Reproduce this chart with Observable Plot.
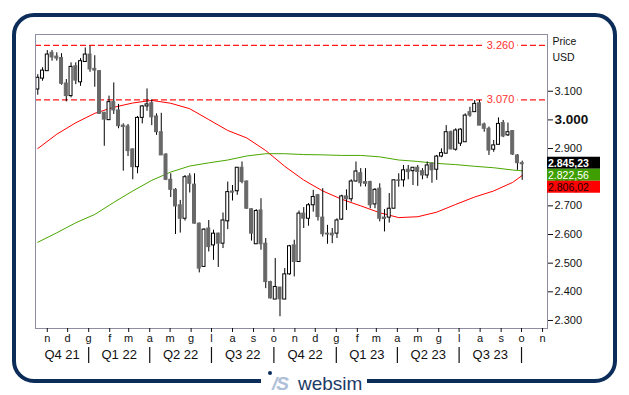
<!DOCTYPE html>
<html><head><meta charset="utf-8">
<script src="https://cdn.jsdelivr.net/npm/d3@7"></script>
<script src="https://cdn.jsdelivr.net/npm/@observablehq/plot@0.6"></script>
<style>
body{margin:0;background:#fff;font-family:"Liberation Sans",Arial,sans-serif;}
#wrap{position:relative;width:629px;height:395px;overflow:hidden;background:#fff;}
#chart{position:absolute;left:0;top:0;}
#frame{position:absolute;left:12px;top:13px;width:605px;height:370px;border:4px solid #0c2d5a;border-radius:22px;box-sizing:border-box;pointer-events:none;}
#logo{position:absolute;left:261px;top:369px;width:106px;height:26px;background:#fff;}
#logo .dot{position:absolute;left:7px;top:2px;width:4px;height:4px;border-radius:50%;background:#0c2d5a;}
#logo .mark{position:absolute;left:11px;top:5px;font:italic bold 19px/19px "Liberation Sans",Arial,sans-serif;color:#aec0d8;letter-spacing:-1px;}
#logo .name{position:absolute;left:37px;top:5px;font:19px/19px "Liberation Sans",Arial,sans-serif;color:#1c3a68;}
</style></head>
<body>
<div id="wrap">
  <div id="chart"></div>
  <div id="frame"></div>
  <div id="logo"><span class="dot"></span><span class="mark">/S</span><span class="name">websim</span></div>
</div>
<script>
// ---- data (weekly candles, values in USD) ----
const firstWeek = "2021-10-18";
const open  = [3106,3144,3170,3234,3221,3216,3127,3083,3187,3131,3202,3228,3178,3170,3025,2999,3062,3033,2980,2977,
               2897,2835,3007,3047,3058,3012,2957,2879,2791,2756,2702,2655,2803,2774,2638,2487,2621,2562,2603,2568,
               2646,2750,2751,2833,2785,2688,2566,2684,2568,2434,2373,2415,2373,2461,2562,2504,2673,2655,2702,2737,
               2659,2603,2603,2603,2652,2733,2723,2785,2814,2783,2783,2705,2760,2659,2659,2690,2789,2789,2826,2821,
               2833,2821,2806,2847,2826,2872,2882,2957,2896,2917,2922,3027,3027,3058,2984,2969,2896,2913,2989,2946,
               2961,2876,2849];
const high  = [3158,3182,3242,3242,3234,3231,3141,3199,3199,3214,3251,3257,3224,3172,3025,3083,3129,3054,2986,2984,
               2899,3012,3050,3108,3070,3021,3023,2882,2812,2760,2719,2806,2812,2812,2640,2620,2649,2615,2605,2675,
               2783,2771,2833,2853,2787,2690,2687,2725,2586,2437,2516,2415,2481,2562,2580,2682,2694,2708,2754,2740,
               2760,2632,2621,2655,2737,2756,2791,2853,2830,2830,2786,2760,2777,2687,2743,2791,2812,2841,2841,2833,
               2841,2830,2853,2849,2876,2899,2980,2961,2969,2969,3021,3044,3068,3068,2989,2975,2928,3007,2998,2989,
               2963,2879,2856];
const low   = [3086,3135,3170,3205,3205,3121,3063,3077,3123,3117,3202,3166,3114,3019,2908,2999,3019,2969,2821,2872,
               2791,2812,2986,3030,2980,2946,2876,2788,2729,2600,2605,2647,2745,2636,2466,2485,2539,2510,2485,2551,
               2617,2717,2737,2777,2688,2577,2566,2545,2411,2375,2373,2313,2373,2458,2452,2504,2621,2629,2678,2647,
               2591,2566,2568,2586,2649,2684,2713,2783,2766,2766,2690,2690,2644,2609,2640,2690,2765,2765,2791,2771,
               2768,2791,2795,2779,2789,2868,2882,2896,2891,2907,2922,3009,3027,2980,2957,2876,2887,2913,2938,2942,
               2876,2824,2789];
const close = [3147,3172,3228,3218,3214,3126,3083,3185,3137,3205,3228,3176,3172,3021,3001,3062,3033,2978,2975,2891,
               2835,3007,3047,3054,3009,2957,2876,2791,2756,2698,2655,2800,2777,2638,2481,2617,2556,2603,2568,2649,
               2748,2746,2833,2783,2690,2603,2682,2566,2434,2377,2417,2374,2461,2559,2504,2673,2655,2702,2731,2661,
               2601,2600,2597,2649,2733,2723,2785,2820,2779,2777,2702,2756,2655,2654,2690,2789,2787,2824,2818,2833,
               2818,2806,2841,2824,2872,2884,2957,2897,2963,2966,3015,3015,3056,2980,2969,2893,2911,2986,2942,2957,
               2879,2849,2845.23];
// moving averages read at these candle numbers
const maCandle = [1,5,9,13,17,21,25,29,33,37,41,45,49,53,57,61,65,69,73,77,81,85,89,93,97,101,103];
const maRed    = [2900,2950,2990,3023,3044,3059,3068,3058,3039,3001,2963,2937,2893,2838,2790,2752,2723,2700,2676,2659,2662,2678,2705,2731,2752,2782,2806.02];
const maGreen  = [2573,2606,2641,2670,2712,2752,2789,2818,2839,2850,2860,2874,2882,2882,2879,2878,2876,2876,2871,2860,2855,2848,2844,2838,2833,2825,2822.56];
const levels = [3260, 3070];
const yTicks = [2300,2400,2500,2600,2700,2800,2900,3000,3100];
const boldTick = [3000];
const monthLetters = ["g","f","m","a","m","g","l","a","s","o","n","d"];
const quarterStarts = ["2021-10-01","2022-01-01","2022-04-01","2022-07-01","2022-10-01","2023-01-01","2023-04-01","2023-07-01","2023-10-01"];
const quarterLabels = ["Q4 21","Q1 22","Q2 22","Q3 22","Q4 22","Q1 23","Q2 23","Q3 23"];
const lastLabels = [
  {v: 2845.23, bg: "#000000", fg: "#ffffff", weight: "bold"},
  {v: 2822.56, bg: "#3f9f00", fg: "#ffffff", weight: "normal"},
  {v: 2806.02, bg: "#ff0000", fg: "#1a0000", weight: "normal"}
];
const xDomain = [new Date("2021-10-14T15:00Z"), new Date("2023-11-08T07:00Z")];
const yDomain = [2272, 3298];

// ---- build tables ----
const DAY = 864e5;
const t0 = new Date(firstWeek + "T00:00Z").getTime();
const candles = open.map((o, i) => ({date: new Date(t0 + i * 7 * DAY), open: o, high: high[i], low: low[i], close: close[i]}));
const ma = maCandle.map((c, i) => ({date: candles[c - 1].date, red: maRed[i], green: maGreen[i]}));
const loc = d3.formatLocale({decimal: ",", thousands: ".", grouping: [3], currency: ["", " USD"]});
const fmt0 = loc.format(",.0f"), fmt2 = loc.format(",.2f");
const months = d3.utcMonths(new Date("2021-11-01T00:00Z"), new Date("2023-11-02T00:00Z"));
const qDates = quarterStarts.map(s => new Date(s + "T00:00Z"));
const quarters = quarterLabels.map((label, i) => {
  const a = Math.max(+qDates[i], +xDomain[0]), b = Math.min(+qDates[i + 1], +xDomain[1]);
  return {label, mid: new Date((a + b) / 2)};
});
const up = candles.filter(d => d.close >= d.open), down = candles.filter(d => d.close < d.open);
const half = 2.2 * DAY;

const chart = Plot.plot({
  width: 629, height: 395,
  marginLeft: 35, marginRight: 82, marginTop: 34, marginBottom: 67,
  style: {fontFamily: "Liberation Sans, Arial, sans-serif", color: "#111", background: "transparent"},
  x: {type: "utc", domain: xDomain},
  y: {domain: yDomain},
  marks: [
    Plot.ruleY(levels, {y: d => d, stroke: "#ff1a1a", strokeWidth: 1.3, strokeDasharray: "6,3"}),
    Plot.text(levels, {y: d => d, frameAnchor: "right", dx: -47, textAnchor: "middle", text: d => fmt0(d),
      fill: "#ff3030", stroke: "white", strokeWidth: 7, paintOrder: "stroke", fontSize: 11}),
    Plot.line(ma, {x: "date", y: "red", stroke: "#ff0000", strokeWidth: 1}),
    Plot.line(ma, {x: "date", y: "green", stroke: "#4aa600", strokeWidth: 1}),
    Plot.ruleX(candles, {x: "date", y1: "low", y2: "high", stroke: "#000", strokeWidth: 1}),
    Plot.rect(up, {x1: d => new Date(+d.date - half), x2: d => new Date(+d.date + half), y1: "open", y2: "close",
      fill: "#fff", stroke: "#000", strokeWidth: 1}),
    Plot.rect(down, {x1: d => new Date(+d.date - half), x2: d => new Date(+d.date + half), y1: "open", y2: "close",
      fill: "#686868", stroke: "#686868", strokeWidth: 1}),
    Plot.frame({stroke: "#8e8ea2"}),
    Plot.axisX({ticks: months, tickFormat: d => monthLetters[d.getUTCMonth()], tickSize: 4, tickPadding: 2,
      fontSize: 11, label: null}),
    Plot.axisY({anchor: "right", ticks: yTicks, tickFormat: d => boldTick.includes(d) ? "" : fmt0(d),
      tickSize: 5, tickPadding: 2, fontSize: 11, label: null}),
    Plot.text(boldTick, {y: d => d, frameAnchor: "right", dx: 7, textAnchor: "start", text: d => fmt0(d),
      fontWeight: "bold", fontSize: 13.5}),
    Plot.text(["Price"], {frameAnchor: "top-right", dx: 5, dy: 7.5, textAnchor: "start", lineAnchor: "middle", text: d => d, fontSize: 10.5}),
    Plot.text(["USD"], {frameAnchor: "top-right", dx: 5, dy: 23, textAnchor: "start", lineAnchor: "middle", text: d => d, fontSize: 10.5}),
    Plot.ruleX(qDates.slice(1), {x: d => d, insetTop: 313, insetBottom: -35, stroke: "#111", strokeWidth: 1.2}),
    Plot.text(quarters, {x: "mid", frameAnchor: "bottom", dy: 26, lineAnchor: "middle", text: "label", fontSize: 13, fill: "#111"})
  ]
});

// last-value tags on the right axis, stacked
const ys = chart.scale("y"), xs = chart.scale("x");
const svg = d3.select(chart);
const bx = xs.range[1], bw = 53, bh = 12;
let prev = -Infinity;
lastLabels.forEach(d => {
  const top = Math.max(ys.apply(d.v) - 7, prev);
  svg.append("rect").attr("x", bx).attr("y", top).attr("width", bw).attr("height", bh).attr("fill", d.bg);
  svg.append("text").attr("x", bx + 1).attr("y", top + bh / 2).attr("dy", "0.36em")
    .attr("text-anchor", "start")
    .attr("fill", d.fg).attr("font-size", 10.5).attr("font-weight", d.weight).text(fmt2(d.v));
  prev = top + bh;
});

document.getElementById("chart").append(chart);
</script>
</body></html>
